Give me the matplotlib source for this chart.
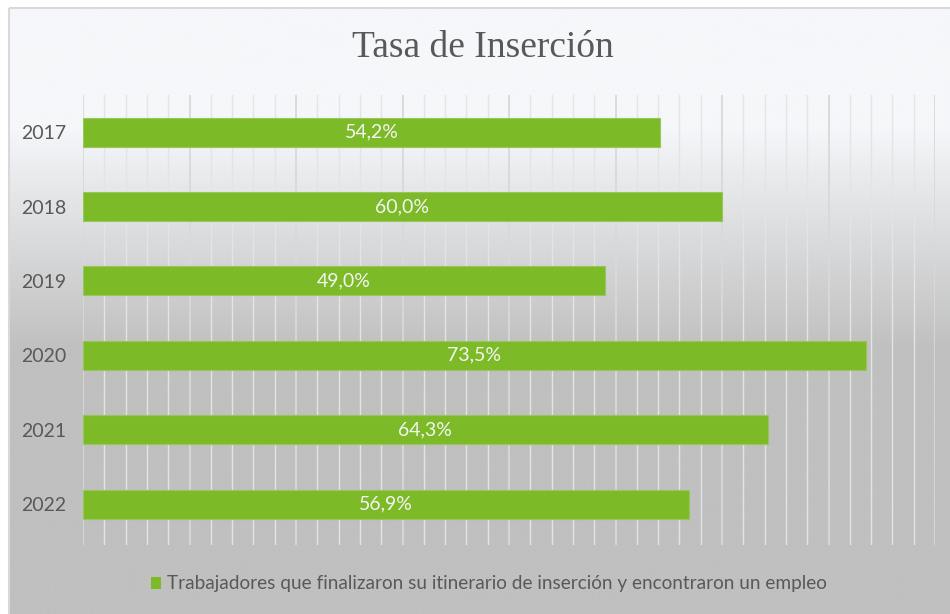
import numpy as np
import matplotlib
matplotlib.use("Agg")
import matplotlib.pyplot as plt
from matplotlib.patches import Patch, Rectangle
from matplotlib.ticker import MultipleLocator

years = ["2017", "2018", "2019", "2020", "2021", "2022"]
values = [54.2, 60.0, 49.0, 73.5, 64.3, 56.9]
labels = ["54,2%", "60,0%", "49,0%", "73,5%", "64,3%", "56,9%"]
title = "Tasa de Inserción"
legend_label = "Trabajadores que finalizaron su itinerario de inserción y encontraron un empleo"

W, H = 950, 614
fig = plt.figure(figsize=(W / 100, H / 100), dpi=100)
fig.patch.set_facecolor("white")

# background gradient
bg = fig.add_axes([0, 0, 1, 1])
bg.set_xlim(0, W)
bg.set_ylim(H, 0)
bg.axis("off")
top = np.array([0xf5, 0xf7, 0xfa]) / 255
bot = np.array([0xc0, 0xc0, 0xc0]) / 255
rows = np.arange(H)
t = np.clip((rows - 120) / (345 - 120), 0, 1)[:, None]
grad = top * (1 - t) + bot * t
img = np.repeat(grad[:, None, :], 2, axis=1)
bg.imshow(img, extent=(9, W, H, 8), aspect="auto", interpolation="bilinear", zorder=0)
bg.add_patch(Rectangle((9, 8), W, H, fill=False, edgecolor="#d9d9d9", linewidth=1.5, zorder=1))

ax = fig.add_axes([83 / W, 1 - 545 / H, (935 - 83) / W, (545 - 95) / H])
ax.set_facecolor("none")
pos = np.arange(len(years))
bars = ax.barh(pos, values, height=0.39, color="#7dba28", edgecolor="#98c65a", linewidth=0.8, zorder=3)
ax.set_xlim(0, 80)
ax.set_ylim(len(years) - 0.45, -0.5)
ax.xaxis.set_major_locator(MultipleLocator(10))
ax.xaxis.set_minor_locator(MultipleLocator(2))
ax.grid(axis="x", which="major", color="#d9d9d9", linewidth=1.3, zorder=1)
ax.grid(axis="x", which="minor", color="#e4e4e4", linewidth=1.0, zorder=1)
ax.set_axisbelow(True)
for s in ax.spines.values():
    s.set_visible(False)
ax.set_yticks(pos)
ax.set_yticklabels(years, fontsize=14, color="#595959", family="Lato")
ax.tick_params(axis="y", length=0, pad=12)
ax.tick_params(axis="x", which="both", length=0, labelbottom=False)

for i, (v, lab) in enumerate(zip(values, labels)):
    ax.text(v / 2, i, lab, ha="center", va="center", color="#f4f4f4", fontsize=14, family="Lato", zorder=4)

fig.text(483 / W, 1 - 48 / H, title, ha="center", va="center", fontsize=27,
         color="#595959", family="Liberation Serif")

fig.legend(handles=[Patch(facecolor="#7dba28", edgecolor="none", label=legend_label)],
           loc="center", bbox_to_anchor=(489 / W, 1 - 584 / H), frameon=False,
           handlelength=0.55, handleheight=0.55, handletextpad=0.3,
           prop={"family": "Lato", "size": 13.7}, labelcolor="#595959")

fig.savefig("out.png", dpi=100)
